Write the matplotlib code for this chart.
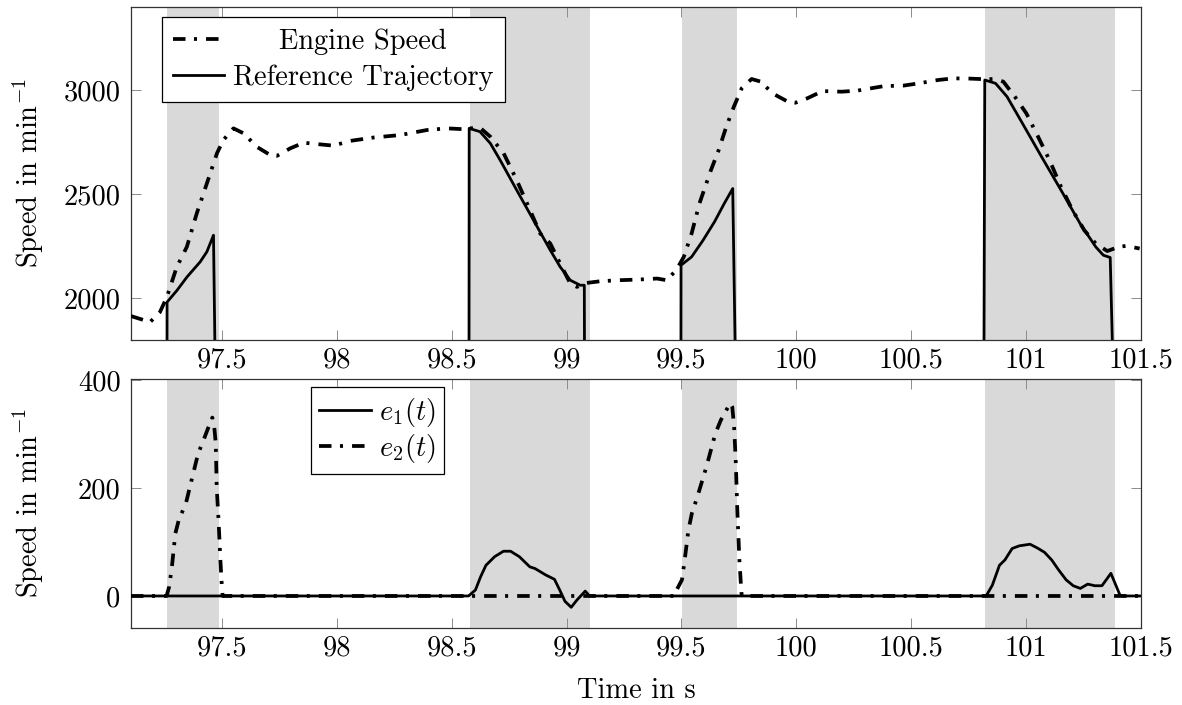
import matplotlib
matplotlib.use("Agg")
import matplotlib.pyplot as plt
from matplotlib.ticker import FixedLocator, FuncFormatter

plt.rcParams["font.family"] = ["cmr10"]
plt.rcParams["mathtext.fontset"] = "cm"
plt.rcParams["axes.formatter.use_mathtext"] = True
plt.rcParams["font.size"] = 20.5
plt.rcParams["lines.scale_dashes"] = False

# ---- data -------------------------------------------------------------
# shaded switching intervals (s)
shade_intervals = [(97.261, 97.487), (98.580, 99.103), (99.502, 99.742), (100.821, 101.389)]

# measured engine speed (min^-1)
engine_t = [97.104, 97.187, 97.230, 97.260, 97.303, 97.347, 97.390, 97.434, 97.478, 97.506,
            97.550, 97.594, 97.652, 97.710, 97.739, 97.797, 97.855, 97.928, 97.985, 98.059,
            98.160, 98.277, 98.392, 98.479, 98.551, 98.580, 98.623, 98.668, 98.726, 98.783,
            98.841, 98.885, 98.929, 98.972, 99.016, 99.045, 99.088, 99.146, 99.226, 99.310,
            99.394, 99.435, 99.477, 99.510, 99.544, 99.578, 99.628, 99.662, 99.695, 99.728,
            99.762, 99.805, 99.846, 99.896, 99.963, 99.996, 100.047, 100.114, 100.197, 100.265,
            100.382, 100.465, 100.532, 100.616, 100.683, 100.750, 100.817, 100.867, 100.901, 100.951,
            101.001, 101.052, 101.102, 101.152, 101.202, 101.253, 101.303, 101.353, 101.403, 101.436,
            101.494]
engine_n = [1915, 1886, 1934, 2006, 2150, 2247, 2407, 2551, 2696, 2760,
            2816, 2792, 2727, 2688, 2684, 2720, 2747, 2739, 2733, 2756,
            2772, 2784, 2808, 2816, 2812, 2816, 2819, 2776, 2696, 2567,
            2423, 2311, 2263, 2167, 2071, 2055, 2074, 2082, 2087, 2090,
            2095, 2087, 2135, 2199, 2311, 2455, 2615, 2712, 2824, 2920,
            3008, 3053, 3040, 2984, 2944, 2939, 2960, 2995, 2992, 2997,
            3019, 3021, 3032, 3048, 3056, 3055, 3052, 3053, 3040, 2968,
            2888, 2776, 2663, 2535, 2423, 2327, 2263, 2227, 2247, 2252,
            2239]

# reference trajectory (zero outside the switching intervals)
ref_t = [97.104, 97.259, 97.261, 97.304, 97.348, 97.405, 97.434, 97.463, 97.490,
         98.574, 98.576, 98.623, 98.668, 98.711, 98.783, 98.856, 98.929, 98.972, 99.016,
         99.059, 99.077, 99.082,
         99.496, 99.498, 99.544, 99.594, 99.644, 99.686, 99.723, 99.758,
         100.812, 100.820, 100.867, 100.917, 100.984, 101.067, 101.152, 101.235, 101.303,
         101.336, 101.366, 101.416, 101.500]
ref_n = [0, 0, 1982, 2038, 2103, 2175, 2223, 2303, 0,
         0, 2816, 2800, 2744, 2663, 2519, 2375, 2231, 2151, 2087,
         2063, 2063, 0,
         0, 2159, 2199, 2279, 2368, 2455, 2527, 0,
         0, 3048, 3032, 2968, 2840, 2680, 2519, 2359, 2247,
         2207, 2196, 0, 0]

# tracking errors (min^-1)
e1_t = [97.104, 98.573, 98.603, 98.626, 98.649, 98.687, 98.725, 98.756, 98.794, 98.840,
        98.862, 98.909, 98.947, 98.970, 98.993, 99.020, 99.046, 99.081, 99.100,
        100.826, 100.853, 100.884, 100.908, 100.939, 100.970, 101.017, 101.049, 101.080, 101.111,
        101.142, 101.174, 101.205, 101.236, 101.268, 101.299, 101.330, 101.369, 101.408, 101.417,
        101.500]
e1_v = [0, 0, 11, 36, 57, 73, 83, 83, 73, 54,
        51, 39, 31, 11, -10, -21, -7, 9, 0,
        0, 20, 57, 67, 88, 93, 96, 89, 81, 67,
        48, 30, 19, 14, 22, 19, 19, 42, 2, 0,
        0]

e2_t = [97.104, 97.259, 97.270, 97.282, 97.297, 97.312, 97.343, 97.378, 97.396, 97.424,
        97.450, 97.458, 97.465, 97.473, 97.477, 97.485, 97.493, 97.500, 97.503,
        99.472, 99.480, 99.502, 99.514, 99.530, 99.545, 99.569, 99.608, 99.632, 99.647,
        99.671, 99.694, 99.713, 99.721, 99.729, 99.736, 99.743, 99.752, 99.761, 99.765,
        101.500]
e2_v = [0, 0, 17, 54, 116, 141, 172, 233, 264, 294,
        323, 331, 320, 283, 202, 141, 67, 14, 0,
        0, 12, 30, 67, 122, 153, 184, 239, 277, 301,
        326, 344, 358, 351, 314, 252, 159, 67, 5, 0,
        0]

x_ticks = [97.5, 98, 98.5, 99, 99.5, 100, 100.5, 101, 101.5]
top_y_ticks = [2000, 2500, 3000]
bottom_y_ticks = [0, 200, 400]

# ---- figure -------------------------------------------------------------
W, H = 1182, 705
fig = plt.figure(figsize=(W / 100, H / 100), dpi=100)

ax_top = fig.add_axes([131 / W, (H - 340) / H, 1010 / W, 333.3 / H])
ax_bot = fig.add_axes([131 / W, (H - 627.5) / H, 1010 / W, 249 / H])

dashdot = dict(color="black", lw=2.7, dashes=(9.0, 6.1, 2.2, 6.5), dash_capstyle="butt")
solid = dict(color="black", lw=2.0, solid_joinstyle="round")
shade_color = "#d9d9d9"

for ax in (ax_top, ax_bot):
    for a, b in shade_intervals:
        ax.axvspan(a, b, color=shade_color, lw=0, zorder=0)

ax_top.plot(engine_t, engine_n, label="Engine Speed", zorder=3, **dashdot)
ax_top.plot(ref_t, ref_n, label="Reference Trajectory", zorder=2, **solid)
ax_top.set_ylim(1800, 3400)

ax_bot.plot(e1_t, e1_v, label="$e_1(t)$", zorder=2, **solid)
ax_bot.plot(e2_t, e2_v, label="$e_2(t)$", zorder=3, **dashdot)
ax_bot.set_ylim(-58.5, 403.5)

fmt = FuncFormatter(lambda v, p: f"{v:g}")
for ax, yt in ((ax_top, top_y_ticks), (ax_bot, bottom_y_ticks)):
    ax.set_xlim(97.104, 101.5)
    ax.xaxis.set_major_locator(FixedLocator(x_ticks))
    ax.yaxis.set_major_locator(FixedLocator(yt))
    ax.xaxis.set_major_formatter(fmt)
    ax.yaxis.set_major_formatter(fmt)
    ax.tick_params(which="both", direction="in", top=True, right=True,
                   length=7, width=0.7, color="0.55", labelcolor="black")
    ax.tick_params(axis="x", pad=5.5)
    ax.tick_params(axis="y", pad=7.5)
    for s in ax.spines.values():
        s.set_linewidth(0.9)
        s.set_color("0.2")
    ax.set_ylabel(r"Speed in $\mathrm{min}^{-1}$")
    ax.yaxis.set_label_coords(-0.084, 0.5)

ax_bot.set_xlabel("Time in s")
ax_bot.xaxis.set_label_coords(0.5, -0.2)

leg_kw = dict(loc="upper left", borderaxespad=0, fancybox=False, framealpha=1,
              edgecolor="black", handlelength=1.8, handletextpad=0.3)
leg1 = ax_top.legend(bbox_to_anchor=(0.0304, 0.969), borderpad=0.4,
                     labelspacing=0.32, **leg_kw)
leg2 = ax_bot.legend(bbox_to_anchor=(0.178, 0.965), borderpad=0.3,
                     labelspacing=0.12, **leg_kw)
for leg in (leg1, leg2):
    leg.get_frame().set_linewidth(0.9)

# centre the legend entries of the upper panel within their column
fig.canvas.draw()
renderer = fig.canvas.get_renderer()
texts = leg1.get_texts()
widths = [t.get_window_extent(renderer).width for t in texts]
wmax = max(widths)
for t, w in zip(texts, widths):
    t.set_x((wmax - w) / 2)

fig.savefig("out.png", dpi=100)
